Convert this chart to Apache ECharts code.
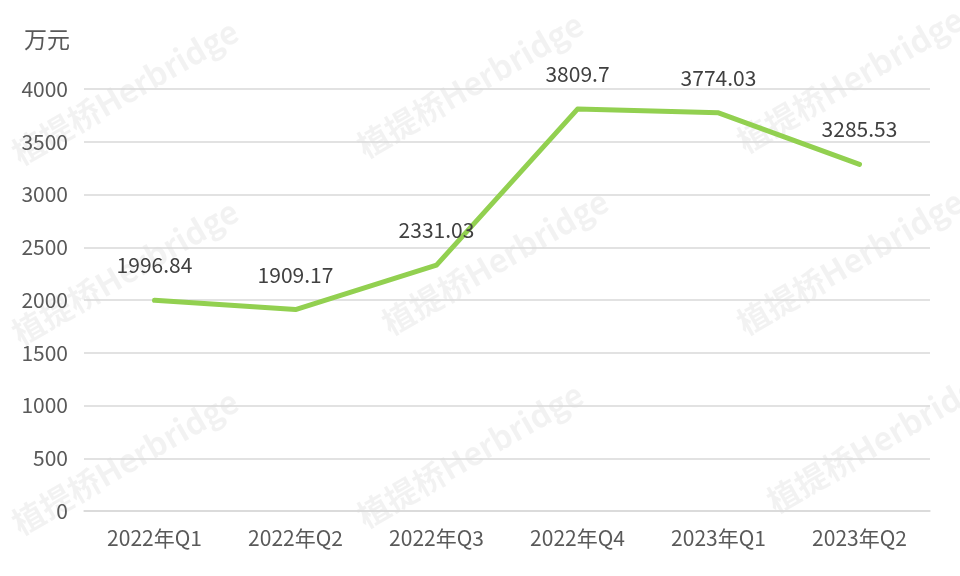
<!DOCTYPE html>
<html>
<head>
<meta charset="utf-8">
<script src="https://cdn.jsdelivr.net/npm/echarts@6/dist/echarts.min.js"></script>
<style>html,body{margin:0;padding:0;background:#fff}#c{width:960px;height:576px}</style>
</head>
<body>
<div id="c"></div>
<script>
const categories = ['2022年Q1','2022年Q2','2022年Q3','2022年Q4','2023年Q1','2023年Q2'];
const values = [1996.84, 1909.17, 2331.03, 3809.7, 3774.03, 3285.53];
const yTicks = [0, 500, 1000, 1500, 2000, 2500, 3000, 3500, 4000];
const unitName = '万元';
const watermarkText = '植提桥Herbridge';

const font = '"Noto Sans CJK SC", "Noto Sans", sans-serif';
const wmPos = [[125,92],[470,85],[850,80],[125,272],[495,262],[850,262],[125,462],[470,455],[880,440]];
const chart = echarts.init(document.getElementById('c'));
chart.setOption({
  animation: false,
  backgroundColor: '#fff',
  graphic: wmPos.map(p => ({
    type: 'text', x: p[0], y: p[1], rotation: Math.PI / 6, z: -10, silent: true,
    style: { text: watermarkText, fill: 'rgba(0,0,0,0.05)', font: 'bold 32px ' + font, align: 'center', verticalAlign: 'middle' }
  })),
  grid: { left: 84, right: 30, top: 89, bottom: 65 },
  xAxis: {
    type: 'category', data: categories, boundaryGap: true,
    axisLine: { show: true, lineStyle: { color: '#d9d9d9', width: 1.5 } },
    axisTick: { show: false },
    axisLabel: { color: '#595959', fontSize: 21, fontFamily: font, margin: 17 }
  },
  yAxis: {
    type: 'value', min: 0, max: 4000, interval: 500,
    name: unitName, nameLocation: 'end', nameGap: 38,
    nameTextStyle: { color: '#595959', fontSize: 23, fontFamily: font, align: 'right', padding: [0, 14, 0, 0] },
    axisLine: { show: false }, axisTick: { show: false },
    splitLine: { lineStyle: { color: '#d9d9d9', width: 1.5 } },
    axisLabel: { color: '#595959', fontSize: 21, fontFamily: font, margin: 16,
      formatter: v => yTicks.includes(v) ? String(v) : '' }
  },
  series: [{
    type: 'line', data: values, showSymbol: true, symbol: 'circle', symbolSize: 1,
    itemStyle: { color: 'rgba(0,0,0,0)' },
    lineStyle: { color: '#92D050', width: 5, cap: 'round', join: 'round' },
    label: { show: true, position: 'top', distance: 24, color: '#404040', fontSize: 21, fontFamily: font,
      formatter: p => String(values[p.dataIndex]) }
  }]
});
</script>
</body>
</html>
